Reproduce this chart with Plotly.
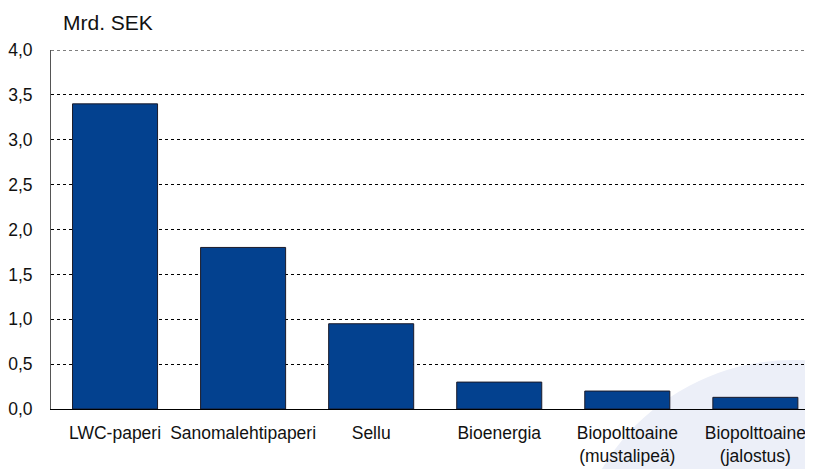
import plotly.graph_objects as go

categories = ["LWC-paperi", "Sanomalehtipaperi", "Sellu", "Bioenergia",
              "Biopolttoaine<br>(mustalipeä)", "Biopolttoaine<br>(jalostus)"]
values = [3.4, 1.8, 0.95, 0.3, 0.2, 0.13]
y_ticks = [0, 0.5, 1.0, 1.5, 2.0, 2.5, 3.0, 3.5, 4.0]
y_tick_labels = ["0,0", "0,5", "1,0", "1,5", "2,0", "2,5", "3,0", "3,5", "4,0"]
y_max = 4.0

OFF = 8  # browser default body margin
W, H = 813 - OFF, 469 - OFF
L, R, T, B = 51 - OFF, 0, 50 - OFF, 60
pw, ph = W - L - R, H - T - B

def px(x):
    return (x - OFF - L) / pw

def py(y):
    return (H - B - (y - OFF)) / ph

fig = go.Figure()
fig.add_trace(go.Bar(
    x=list(range(len(categories))), y=values, width=0.664,
    marker=dict(color="#03418F", line=dict(color="#1b1b2a", width=1)),
))

# faint background swoosh (decoration)
cx, cy, r = 793, 582, 222
fig.add_shape(type="circle", xref="paper", yref="paper",
              x0=px(cx - r), x1=px(cx + r), y0=py(cy + r), y1=py(cy - r),
              fillcolor="#ECEFF8", line=dict(width=0), layer="below")

# top gridline at the range edge (Plotly omits it)
fig.add_shape(type="line", xref="paper", yref="y", x0=0, x1=1,
              y0=y_max, y1=y_max, line=dict(color="#000", width=1, dash="dot"),
              layer="below")

fig.add_annotation(text="Mrd. SEK", xref="paper", yref="paper",
                   x=px(61), y=py(22), xanchor="left", yanchor="middle",
                   showarrow=False, font=dict(size=21, color="#111"))

fig.update_layout(
    width=W, height=H, margin=dict(l=L, r=R, t=T, b=B, autoexpand=False),
    paper_bgcolor="white", plot_bgcolor="rgba(0,0,0,0)",
    showlegend=False,
    font=dict(family="Liberation Sans, Arial, sans-serif", size=17.5, color="#111"),
    xaxis=dict(range=[-0.5, 5.45], tickmode="array",
               tickvals=list(range(len(categories))), ticktext=categories,
               showgrid=False, showline=True, linecolor="#000", linewidth=1,
               ticks="", zeroline=False, ticklabelstandoff=8),
    yaxis=dict(range=[0, y_max], tickmode="array", tickvals=y_ticks,
               ticktext=y_tick_labels, showgrid=True, gridcolor="#000",
               griddash="dot", gridwidth=1, showline=True, linecolor="#555",
               linewidth=1, ticks="", ticklabelstandoff=14, zeroline=False),
)

fig.write_html("out.html")
